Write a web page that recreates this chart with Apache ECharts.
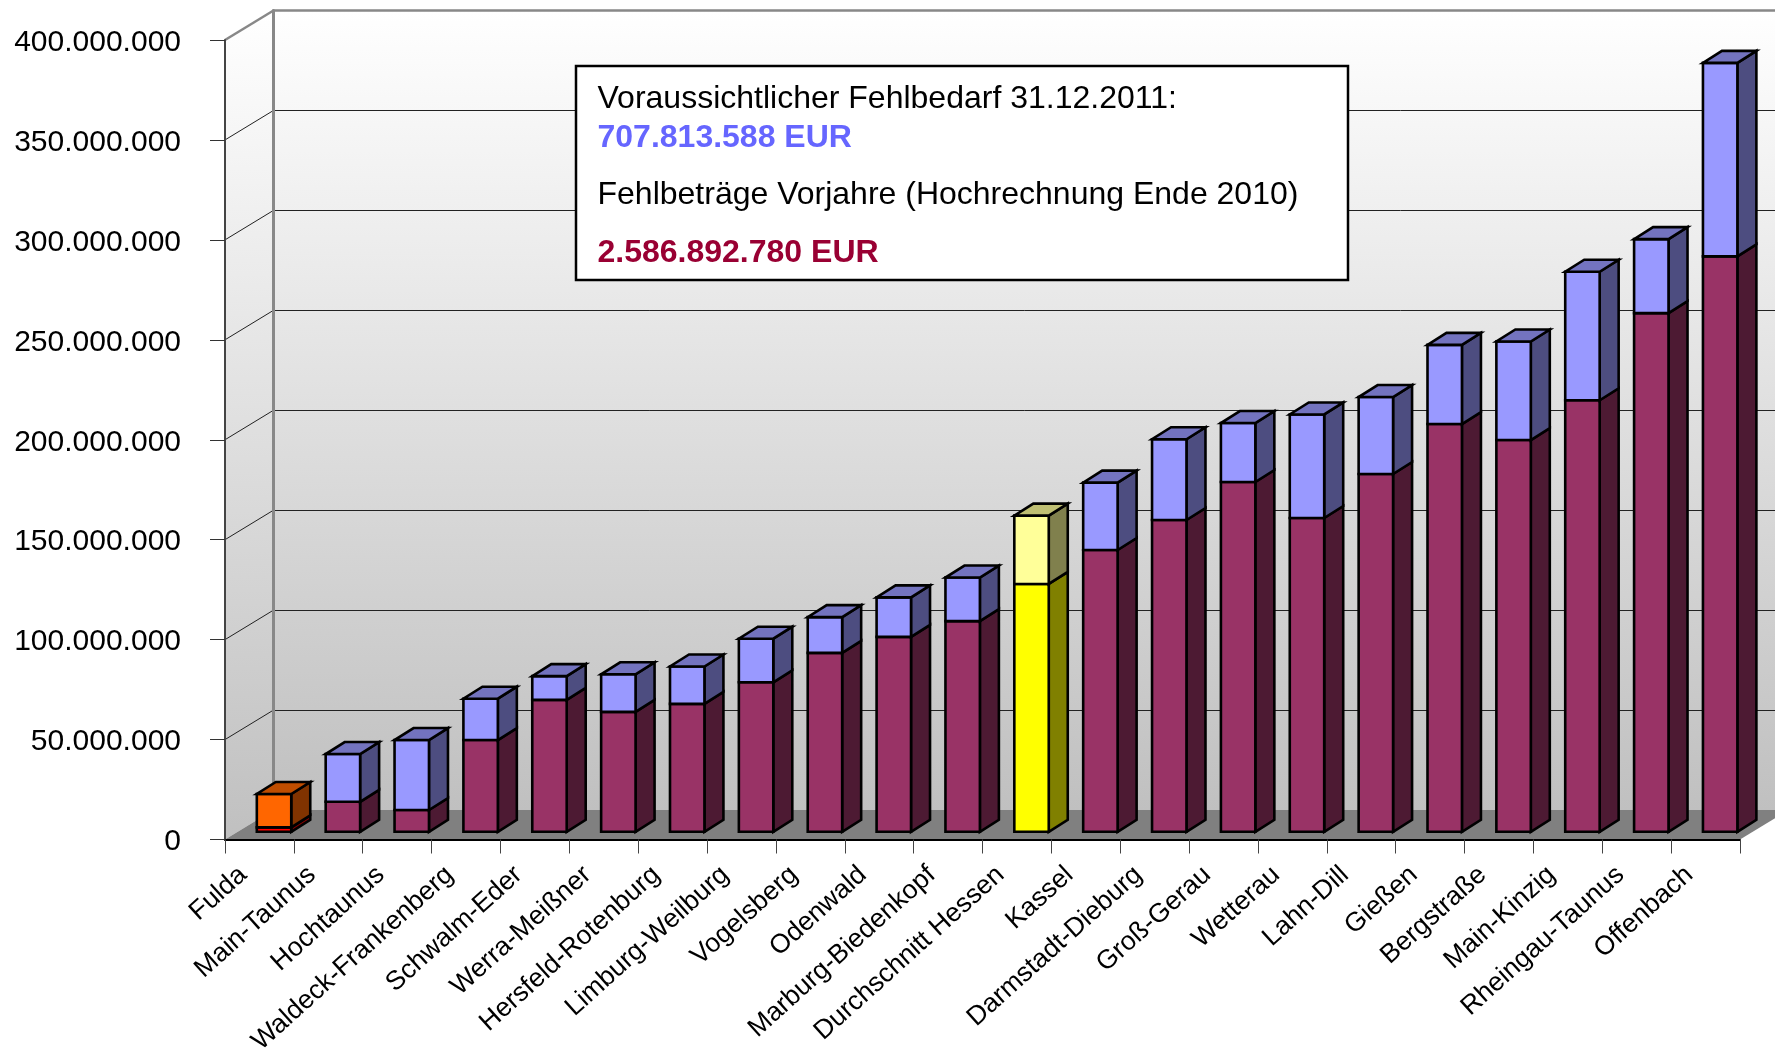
<!DOCTYPE html>
<html><head><meta charset="utf-8">
<style>html,body{margin:0;padding:0;background:#fff}#c{width:1775px;height:1055px}</style>
<script src="https://cdn.jsdelivr.net/npm/echarts@6/dist/echarts.min.js"></script>
</head><body><div id="c"></div>
<script>
const categories = ['Fulda','Main-Taunus','Hochtaunus','Waldeck-Frankenberg','Schwalm-Eder','Werra-Meißner','Hersfeld-Rotenburg','Limburg-Weilburg','Vogelsberg','Odenwald','Marburg-Biedenkopf','Durchschnitt Hessen','Kassel','Darmstadt-Dieburg','Groß-Gerau','Wetterau','Lahn-Dill','Gießen','Bergstraße','Main-Kinzig','Rheingau-Taunus','Offenbach'];
// Fehlbeträge Vorjahre (lower segment)
const vorjahre = [2200000,15000000,10900000,45900000,66000000,60000000,64000000,74800000,89500000,97500000,105400000,124000000,141000000,156000000,175000000,157000000,179000000,204000000,196000000,215900000,259500000,287900000];
// Fehlbedarf 2011 (upper segment)
const fehlbedarf = [16700000,23900000,35000000,20700000,11900000,18800000,18700000,21800000,17900000,19800000,21800000,34200000,33700000,40400000,29500000,51800000,38500000,39600000,49300000,64300000,37000000,96800000];
const yTicks = [0,50000000,100000000,150000000,200000000,250000000,300000000,350000000,400000000];
const infoLines = ['Voraussichtlicher Fehlbedarf 31.12.2011:','707.813.588 EUR','Fehlbeträge Vorjahre (Hochrechnung Ende 2010)','2.586.892.780 EUR'];

const FONT = '"Liberation Sans", Arial, sans-serif';
const WALL_DX = 48.5, WALL_DY = -29.5;
const BAR_SHIFT_X = 14.6, BAR_SHIFT_Y = -7.7, BAR_DX = 19, BAR_DY = -12, BAR_W = 0.5;
const PAL = {
  normal:[{f:'#993366',s:'#4d1a33',t:'#732650'},{f:'#9999ff',s:'#4d4d80',t:'#7373bf'}],
  first:[{f:'#ff0000',s:'#800000',t:'#bf0000'},{f:'#ff6600',s:'#803300',t:'#bf4d00'}],
  avg:[{f:'#ffff00',s:'#808000',t:'#bfbf00'},{f:'#ffff99',s:'#80804d',t:'#bfbf73'}]
};
const wallGrad = {type:'linear',x:0,y:0,x2:0,y2:1,colorStops:[{offset:0,color:'#ffffff'},{offset:1,color:'#c0c0c0'}]};

const segData = [];
categories.forEach((c,i)=>{
  segData.push([i,0,vorjahre[i],0]);
  segData.push([i,vorjahre[i],vorjahre[i]+fehlbedarf[i],1]);
});

function renderBar(params, api){
  const i=api.value(0), lo=api.value(1), hi=api.value(2), seg=api.value(3);
  const w=api.size([1,0])[0]*BAR_W;
  const pLo=api.coord([i,lo]), pHi=api.coord([i,hi]);
  const x0=pLo[0]+BAR_SHIFT_X-w/2, x1=x0+w, yb=pLo[1]+BAR_SHIFT_Y, yt=pHi[1]+BAR_SHIFT_Y;
  const name=categories[i];
  const pal=(name==='Fulda'?PAL.first:name==='Durchschnitt Hessen'?PAL.avg:PAL.normal)[seg];
  const st=c=>({fill:c,stroke:'#000',lineWidth:2.6,lineJoin:'miter'});
  const children=[
    {type:'polygon',shape:{points:[[x1,yb],[x1+BAR_DX,yb+BAR_DY],[x1+BAR_DX,yt+BAR_DY],[x1,yt]]},style:st(pal.s)},
    {type:'polygon',shape:{points:[[x0,yb],[x1,yb],[x1,yt],[x0,yt]]},style:st(pal.f)}
  ];
  if(seg===1) children.push({type:'polygon',shape:{points:[[x0,yt],[x1,yt],[x1+BAR_DX,yt+BAR_DY],[x0+BAR_DX,yt+BAR_DY]]},style:st(pal.t)});
  return {type:'group',children};
}
function renderShell(params, api){
  const g=params.coordSys, x=g.x, y=g.y, r=g.x+g.width, b=g.y+g.height;
  return {type:'group',children:[
    {type:'polygon',shape:{points:[[x,y],[x+WALL_DX,y+WALL_DY],[x+WALL_DX,b+WALL_DY],[x,b]]},style:{fill:wallGrad}},
    {type:'polygon',shape:{points:[[x,b],[r,b],[r+WALL_DX,b+WALL_DY],[x+WALL_DX,b+WALL_DY]]},style:{fill:'#808080'}}
  ]};
}
function renderDiag(params, api){
  const v=api.value(0), g=params.coordSys, p=api.coord([0,v]), x=g.x;
  const top=v===yTicks[yTicks.length-1];
  return {type:'line',shape:{x1:x,y1:p[1],x2:x+WALL_DX,y2:p[1]+WALL_DY},style:{stroke:top?'#888':'#222',lineWidth:top?2.5:1}};
}

const chart = echarts.init(document.getElementById('c'),null,{renderer:'canvas'});
chart.setOption({
  animation:false,
  backgroundColor:'#fff',
  grid:[
    {left:225,top:40,width:1515,height:799.5,containLabel:false,outerBoundsMode:'none'},
    {left:273.5,top:10.5,width:1515,height:799.5,show:true,borderWidth:0,backgroundColor:wallGrad,outerBoundsMode:'none'}
  ],
  xAxis:[
    {type:'category',gridIndex:0,data:categories,z:5,
     axisLine:{show:true,lineStyle:{color:'#000',width:2}},
     axisTick:{show:true,length:14,interval:0,lineStyle:{color:'#444',width:1}},
     axisLabel:{interval:0,rotate:42,margin:17,padding:[0,22,0,0],hideOverlap:false,fontFamily:FONT,fontSize:26.6,color:'#000'},
     splitLine:{show:false}},
    {type:'category',gridIndex:1,data:categories,position:'top',z:3,
     axisLine:{show:true,onZero:false,lineStyle:{color:'#888',width:2.5}},axisTick:{show:false},axisLabel:{show:false},splitLine:{show:false}}
  ],
  yAxis:[
    {type:'value',gridIndex:0,min:0,max:400000000,interval:50000000,z:5,
     axisLine:{show:true,lineStyle:{color:'#444',width:2}},
     axisTick:{show:true,length:15,lineStyle:{color:'#333',width:1}},
     axisLabel:{margin:44,verticalAlign:'top',lineHeight:5,fontFamily:FONT,fontSize:30,color:'#000',
       formatter:v=>String(v).replace(/\B(?=(\d{3})+(?!\d))/g,'.')},
     splitLine:{show:false}},
    {type:'value',gridIndex:1,min:0,max:400000000,interval:50000000,z:3,
     axisLine:{show:true,lineStyle:{color:'#888',width:3}},axisTick:{show:false},axisLabel:{show:false},
     splitLine:{show:true,showMinLine:false,showMaxLine:false,lineStyle:{color:'#222',width:1}}}
  ],
  series:[
    {type:'custom',name:'Wände',xAxisIndex:0,yAxisIndex:0,z:2,silent:true,renderItem:renderShell,data:[[0,0]],encode:{x:0,y:1}},
    {type:'custom',name:'Raster',xAxisIndex:0,yAxisIndex:0,z:3,silent:true,renderItem:renderDiag,data:yTicks.slice(1).map(v=>[v]),encode:{y:0}},
    {type:'custom',name:'Fehlbeträge',xAxisIndex:0,yAxisIndex:0,z:4,renderItem:renderBar,data:segData,encode:{x:0,y:[1,2]}}
  ],
  graphic:[
    {type:'rect',z:10,shape:{x:576,y:66,width:772,height:214},style:{fill:'#fff',stroke:'#000',lineWidth:2.5}},
    {type:'text',z:11,style:{x:597.5,y:83,text:infoLines[0],font:'32px '+FONT,fill:'#000'}},
    {type:'text',z:11,style:{x:597.5,y:122,text:infoLines[1],font:'bold 32px '+FONT,fill:'#6666ff'}},
    {type:'text',z:11,style:{x:597.5,y:179,text:infoLines[2],font:'32px '+FONT,fill:'#000'}},
    {type:'text',z:11,style:{x:597.5,y:237,text:infoLines[3],font:'bold 32px '+FONT,fill:'#990033'}}
  ]
});
</script></body></html>
